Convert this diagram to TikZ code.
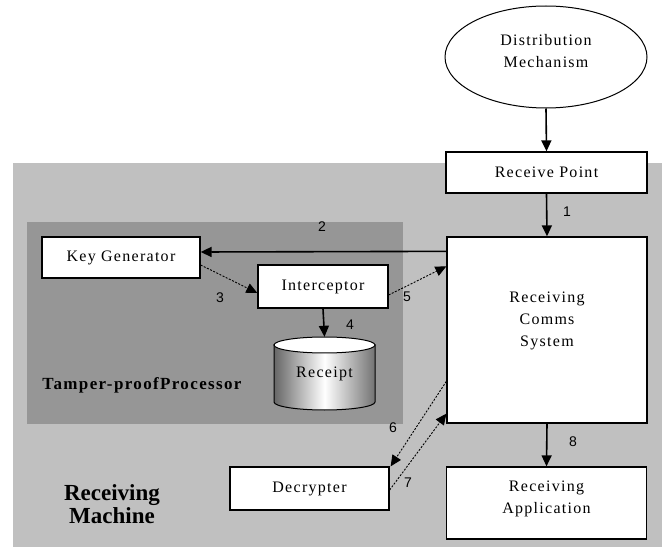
\documentclass[tikz,border=0pt]{standalone}
\usepackage{fontspec}
\setmainfont{Liberation Serif}
\newfontfamily\boxfont{Liberation Serif}[LetterSpace=8]
\newfontfamily\numfont{Liberation Sans}
\usetikzlibrary{arrows.meta,shapes.geometric,calc}
\definecolor{lightbg}{HTML}{C0C0C0}
\definecolor{darkbg}{HTML}{969696}
\begin{document}
\begin{tikzpicture}[x=1pt,y=-1pt,
  box/.style={draw=black, line width=1.3pt, fill=white, align=center, inner sep=0pt,
    font=\boxfont\fontsize{16}{22}\selectfont},
  arr/.style={line width=1.6pt, -{Triangle[length=11pt,width=10pt]}},
  darr/.style={line width=0.9pt, dash pattern=on 2pt off 1.5pt, -{Triangle[length=11pt,width=10pt]}},
  num/.style={font=\numfont\fontsize{14}{14}\selectfont, inner sep=0pt},
  bold/.style={font=\bfseries\fontsize{17}{20}\selectfont, inner sep=0pt, align=center}
]
\useasboundingbox (0,0) rectangle (662,548);
\fill[lightbg] (13,163) rectangle (662,547);
\fill[darkbg] (27,222) rectangle (403,424);

% cylinder
\shadedraw[line width=1pt, left color=black!60, right color=black!55, middle color=white]
  (274,345) -- (274,402) arc[start angle=180,end angle=360,x radius=50.5pt,y radius=8pt] -- (375,345) -- cycle;
\draw[line width=1pt, fill=white] (324.5,345) ellipse [x radius=50.5pt, y radius=8pt];
\node[inner sep=0pt, minimum width=101pt, minimum height=73pt, font=\boxfont\fontsize{16}{22}\selectfont] (rec) at (324.5,373.5) {Receipt};

\node[box, ellipse, line width=1pt, minimum width=202pt, minimum height=102pt] (dist) at (546,57) {Distribution\\Mechanism\rule[-12pt]{0pt}{12pt}};
\node[box, minimum width=201pt, minimum height=41pt] (rp) at (546.5,172.5) {Receive Point};
\node[box, minimum width=200pt, minimum height=186pt] (rcs) at (547,330) {Receiving\\Comms\\System\rule[-22pt]{0pt}{22pt}};
\node[box, minimum width=200pt, minimum height=72pt] (app) at (546.5,503) {Receiving\\Application\rule[-12pt]{0pt}{12pt}};
\node[box, minimum width=158pt, minimum height=41pt] (kg) at (121,257.5) {Key Generator};
\node[box, minimum width=130pt, minimum height=43pt] (int) at (323,286.5) {Interceptor};
\node[box, minimum width=159pt, minimum height=43pt] (dec) at (309.5,488.5) {Decrypter};

\node[bold] (tpp) at (142,385) {\addfontfeatures{LetterSpace=8}Tamper-proofProcessor};
\node[bold, font=\bfseries\fontsize{23}{23}\selectfont] (rm) at (112,504) {Receiving\\Machine};

% connectors
\draw[arr] (dist.south) -- (rp.north);
\draw[arr] (rp.south) -- (rcs.north);
\draw[arr] ($(rcs.north west)+(0,15)$) -- ($(kg.east)+(0,-5.5)$);
\draw[darr] ($(kg.east)+(0,7.5)$) -- ($(int.west)+(0,6.5)$);
\draw[arr] (int.south) -- (rec.north);
\draw[darr] ($(int.east)+(0,8.5)$) -- ($(rcs.north west)+(0,30)$);
\draw[darr] ($(rcs.north west)+(0,145)$) -- ($(dec.north east)+(1,0)$);
\draw[darr] ($(dec.east)+(0,1.5)$) -- ($(rcs.south west)+(0,-10)$);
\draw[arr] (rcs.south) -- (app.north);

\node[num] (l1) at (567,212) {1};
\node[num] (l2) at (322,227) {2};
\node[num] (l3) at (220,298) {3};
\node[num] (l4) at (350,325) {4};
\node[num] (l5) at (407,297) {5};
\node[num] (l6) at (393,428) {6};
\node[num] (l7) at (408,483) {7};
\node[num] (l8) at (573,442) {8};
\end{tikzpicture}
\end{document}
